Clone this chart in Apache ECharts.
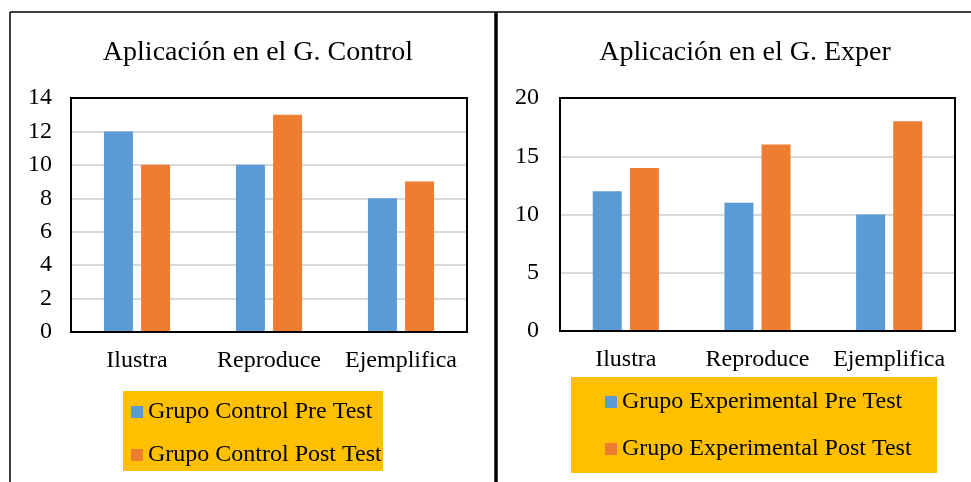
<!DOCTYPE html>
<html>
<head>
<meta charset="utf-8">
<script src="https://cdn.jsdelivr.net/npm/echarts@6/dist/echarts.min.js"></script>
<style>
html,body{margin:0;padding:0;background:#fff;}
#c{width:971px;height:482px;}
</style>
</head>
<body>
<div id="c"></div>
<script>
var categories = ['Ilustra', 'Reproduce', 'Ejemplifica'];
var titleControl = 'Aplicación en el G. Control';
var titleExper = 'Aplicación en el G. Exper';
var controlPreName = 'Grupo Control Pre Test';
var controlPostName = 'Grupo Control Post Test';
var experPreName = 'Grupo Experimental Pre Test';
var experPostName = 'Grupo Experimental Post Test';
var controlPre = [12, 10, 8];
var controlPost = [10, 13, 9];
var experPre = [12, 11, 10];
var experPost = [14, 16, 18];
var controlAxis = {min: 0, max: 14, interval: 2};
var experAxis = {min: 0, max: 20, interval: 5};

var FONT = '"Liberation Serif", "Times New Roman", serif';
var BLUE = '#5B9BD5', ORANGE = '#ED7D31', YELLOW = '#FFC000';

var chart = echarts.init(document.getElementById('c'), null, {renderer: 'canvas'});

function xAx(gi) {
  return {
    type: 'category', gridIndex: gi, data: categories,
    axisLine: {show: true, lineStyle: {color: '#000', width: 2}},
    axisTick: {show: false},
    axisLabel: {color: '#000', fontFamily: FONT, fontSize: 24, margin: 17, interval: 0}
  };
}
function yAx(gi, a, m) {
  return {
    type: 'value', gridIndex: gi, min: a.min, max: a.max, interval: a.interval,
    axisLine: {show: false}, axisTick: {show: false},
    splitLine: {show: true, showMaxLine: false, showMinLine: false, lineStyle: {color: '#D9D9D9', width: 2}},
    axisLabel: {color: '#000', fontFamily: FONT, fontSize: 24, margin: m}
  };
}
function bar(name, data, gi, color) {
  return {
    type: 'bar', name: name, data: data, xAxisIndex: gi, yAxisIndex: gi,
    barWidth: 29, barGap: '28%',
    itemStyle: {color: color}
  };
}

chart.setOption({
  animation: false,
  title: [
    {text: titleControl, left: 253, top: 34, textAlign: 'center',
     textStyle: {fontFamily: FONT, fontSize: 28, fontWeight: 'normal', color: '#000'}},
    {text: titleExper, left: 740, top: 34, textAlign: 'center',
     textStyle: {fontFamily: FONT, fontSize: 28, fontWeight: 'normal', color: '#000'}}
  ],
  grid: [
    {left: 71, top: 98, width: 396, height: 234, show: true, borderColor: '#000', borderWidth: 2, backgroundColor: 'transparent'},
    {left: 560, top: 98, width: 395, height: 233, show: true, borderColor: '#000', borderWidth: 2, backgroundColor: 'transparent'}
  ],
  xAxis: [xAx(0), xAx(1)],
  yAxis: [yAx(0, controlAxis, 19), yAx(1, experAxis, 21)],
  legend: [
    {data: [controlPreName, controlPostName], orient: 'vertical', left: 131, top: 400,
     padding: 0, itemWidth: 12, itemHeight: 12, itemGap: 19, icon: 'rect',
     textStyle: {fontFamily: FONT, fontSize: 24, lineHeight: 24, color: '#000'}},
    {data: [experPreName, experPostName], orient: 'vertical', left: 605, top: 390,
     padding: 0, itemWidth: 12, itemHeight: 12, itemGap: 23, icon: 'rect',
     textStyle: {fontFamily: FONT, fontSize: 24, lineHeight: 24, color: '#000'}}
  ],
  graphic: [
    {type: 'rect', z: -10, shape: {x: 123, y: 391, width: 260, height: 80}, style: {fill: YELLOW}},
    {type: 'rect', z: -10, shape: {x: 571, y: 377, width: 366, height: 96}, style: {fill: YELLOW}},
    {type: 'rect', z: 100, shape: {x: 71, y: 98, width: 396, height: 234}, style: {fill: 'none', stroke: '#000', lineWidth: 2}},
    {type: 'rect', z: 100, shape: {x: 560, y: 98, width: 395, height: 233}, style: {fill: 'none', stroke: '#000', lineWidth: 2}},
    {type: 'line', z: 100, shape: {x1: 10, y1: 12, x2: 971, y2: 12}, style: {stroke: '#000', lineWidth: 1.5}},
    {type: 'line', z: 100, shape: {x1: 10, y1: 12, x2: 10, y2: 482}, style: {stroke: '#000', lineWidth: 1.5}},
    {type: 'line', z: 100, shape: {x1: 496, y1: 12, x2: 496, y2: 482}, style: {stroke: '#000', lineWidth: 3.5}}
  ],
  series: [
    bar(controlPreName, controlPre, 0, BLUE),
    bar(controlPostName, controlPost, 0, ORANGE),
    bar(experPreName, experPre, 1, BLUE),
    bar(experPostName, experPost, 1, ORANGE)
  ]
});
</script>
</body>
</html>
